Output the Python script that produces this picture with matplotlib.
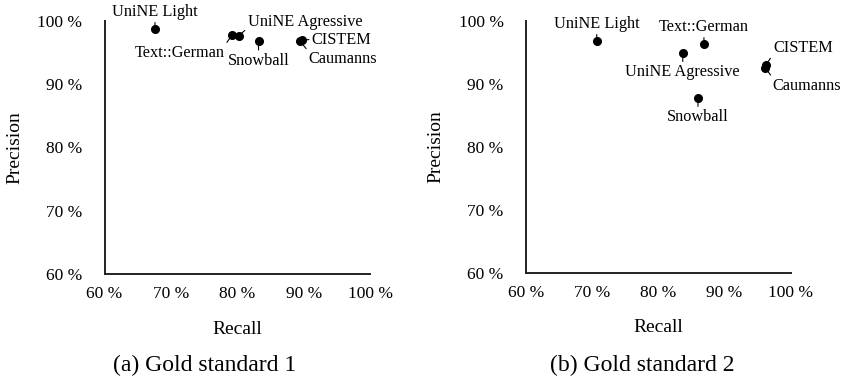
import matplotlib
matplotlib.use("Agg")
import matplotlib.pyplot as plt
from matplotlib.ticker import FuncFormatter

plt.rcParams['font.family'] = ['Liberation Serif', 'DejaVu Serif']

# stemmer names (same order in both panels)
names = ["UniNE Light", "Text::German", "UniNE Agressive", "Snowball", "CISTEM", "Caumanns"]

# gold standard 1 (recall / precision in %)
gs1_recall    = [67.6, 79.2, 80.2, 83.2, 89.7, 89.5]
gs1_precision = [98.7, 97.7, 97.6, 96.8, 96.9, 96.7]

# gold standard 2
gs2_recall    = [70.7, 86.9, 83.7, 86.0, 96.3, 96.2]
gs2_precision = [96.8, 96.3, 94.8, 87.7, 93.0, 92.5]

ticks = [60, 70, 80, 90, 100]

# label placement: offset in pixels, alignment, where the leader leaves the text
place1 = [(0, 17, 'center', (0.5, 0.05)), (-7, -18, 'right', (1.0, 1.0)),
          (9, 14, 'left', (0.0, 0.1)), (0, -20, 'center', (0.5, 1.0)),
          (10, 0, 'left', (0.0, 0.55)), (8, -18, 'left', (0.0, 1.0))]
place2 = [(0, 17, 'center', (0.5, 0.05)), (0, 17, 'center', (0.5, 0.05)),
          (0, -19, 'center', (0.5, 1.0)), (0, -19, 'center', (0.5, 1.0)),
          (7, 17, 'left', (0.0, 0.1)), (7, -18, 'left', (0.0, 1.0))]

fig = plt.figure(figsize=(8.41, 3.8), dpi=100)
ax1 = fig.add_axes([0.1243, 0.279, 0.3157, 0.667])
ax2 = fig.add_axes([0.6254, 0.282, 0.3147, 0.664])

pct = FuncFormatter(lambda v, p: "%d %%" % v)

def draw(ax, rec, prec, place, caption, cx):
    ax.plot(rec, prec, 'o', color='black', markersize=5.5, clip_on=False, zorder=3)
    for n, x, y, (dx, dy, ha, rp) in zip(names, rec, prec, place):
        ax.annotate(n, (x, y), xytext=(dx, dy), textcoords='offset pixels',
                    ha=ha, va='center', fontsize=11.7,
                    arrowprops=dict(arrowstyle='-', lw=0.8, color='black',
                                    shrinkA=0, shrinkB=0, relpos=rp))
    ax.set_xlim(60, 100)
    ax.set_ylim(60, 100)
    ax.set_xticks(ticks)
    ax.set_yticks(ticks)
    ax.xaxis.set_major_formatter(pct)
    ax.yaxis.set_major_formatter(pct)
    ax.tick_params(length=0, labelsize=12.5)
    ax.tick_params(axis='x', pad=9)
    ax.tick_params(axis='y', pad=16)
    for s in ['top', 'right']:
        ax.spines[s].set_visible(False)
    for s in ['left', 'bottom']:
        ax.spines[s].set_linewidth(1.4)
        ax.spines[s].set_color('#222222')
    ax.set_xlabel("Recall", fontsize=14, labelpad=13)
    ax.set_ylabel("Precision", fontsize=14, labelpad=10)
    fig.text(cx / 841, 1 - 365 / 380, caption, ha='center', va='center', fontsize=17)

draw(ax1, gs1_recall, gs1_precision, place1, "(a) Gold standard 1", 205)
draw(ax2, gs2_recall, gs2_precision, place2, "(b) Gold standard 2", 642)

fig.savefig("out.png", dpi=100)
